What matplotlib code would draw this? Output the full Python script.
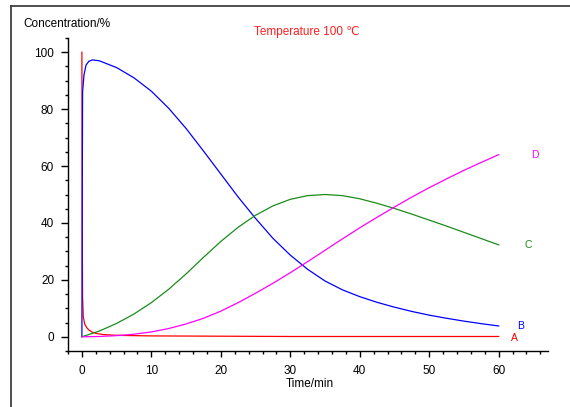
import matplotlib
matplotlib.use("Agg")
import matplotlib.pyplot as plt
from matplotlib.lines import Line2D
from matplotlib.ticker import MultipleLocator

plt.rcParams['font.family'] = ['Liberation Sans', 'DejaVu Sans']

# species A: fast initial decay
tA = [0, 0.02, 0.05, 0.1, 0.2, 0.4, 0.7, 1, 1.5, 2, 3, 5, 10, 20, 30, 40, 50, 60]
concA = [100, 70, 35, 14, 7, 4.5, 3.2, 2.4, 1.6, 1.2, 0.8, 0.5, 0.3, 0.2, 0.1, 0.1, 0.1, 0.1]

# species B: intermediate, fast rise then slow decline
tB = [0, 0.05, 0.1, 0.3, 0.6, 1, 1.5, 2.5, 5, 7.5, 10, 12.5, 15, 17.5, 20, 22.5, 25,
      27.5, 30, 32.5, 35, 37.5, 40, 42.5, 45, 47.5, 50, 52.5, 55, 57.5, 60]
concB = [0, 50, 86, 92, 95.5, 96.8, 97.3, 97, 94.6, 91, 86.3, 80.3, 73.2, 65.3, 57.2, 49.1, 41.6,
         34.6, 28.7, 23.7, 19.6, 16.5, 14.1, 12.1, 10.4, 8.9, 7.6, 6.5, 5.5, 4.6, 3.8]

# species C and D share one time grid
tCD = [0, 2.5, 5, 7.5, 10, 12.5, 15, 17.5, 20, 22.5, 25, 27.5, 30, 32.5, 35, 37.5, 40,
       42.5, 45, 47.5, 50, 52.5, 55, 57.5, 60]
concC = [0, 2.0, 4.7, 8.0, 12.0, 16.7, 22.1, 27.9, 33.5, 38.5, 42.7, 46.0, 48.3, 49.6, 50.0,
         49.6, 48.5, 46.9, 45.1, 43.1, 41.0, 38.9, 36.7, 34.5, 32.3]
concD = [0, 0.1, 0.4, 0.9, 1.7, 2.9, 4.5, 6.5, 9, 12, 15.3, 18.8, 22.5, 26.4, 30.4, 34.4, 38.3,
         42, 45.6, 49.1, 52.4, 55.5, 58.5, 61.3, 64]

series = [
    ("A", tA, concA, "#ff0000", 1.8, -0.6),
    ("B", tB, concB, "#0000ff", 2.7, 0.0),
    ("C", tCD, concC, "#1a8c1a", 3.7, 0.0),
    ("D", tCD, concD, "#ff00ff", 4.7, 0.0),
]

fig = plt.figure(figsize=(5.7, 4.07), dpi=100)
ax = fig.add_axes([68 / 570, 56 / 407, 480 / 570, 313 / 407])

for name, t, c, col, dx, dy in series:
    ax.plot(t, c, color=col, lw=0.9, solid_joinstyle="round")
    ax.text(t[-1] + dx, c[-1] + dy, name, color=col, fontsize=7.5,
            ha="left", va="center")

ax.set_xlim(-2, 67.1)
ax.set_ylim(-5, 105)
ax.xaxis.set_minor_locator(MultipleLocator(2))
ax.yaxis.set_minor_locator(MultipleLocator(5))
ax.set_xticks(range(0, 61, 10))
ax.set_yticks(range(0, 101, 20))

for s in ("top", "right"):
    ax.spines[s].set_visible(False)
for s in ("left", "bottom"):
    ax.spines[s].set_linewidth(1.0)

ax.tick_params(axis="y", which="major", direction="out", length=5, width=1,
               labelsize=8.5, pad=5)
ax.tick_params(axis="x", which="major", direction="out", length=4, width=1,
               labelsize=8.5, pad=6)
ax.tick_params(which="minor", direction="out", length=2.5, width=1)

fig.text(23 / 570, 1 - 24 / 407, "Concentration/%", fontsize=8.5,
         ha="left", va="center")
fig.text(310 / 570, 1 - 384 / 407, "Time/min", fontsize=8.5,
         ha="center", va="center")
fig.text(307 / 570, 1 - 32 / 407, "Temperature 100 \u2103", fontsize=8.5,
         color="#ff2020", ha="center", va="center")

# outer frame (only left and top edges fall inside the canvas)
fig.add_artist(Line2D([11 / 570, 11 / 570], [0, 1 - 5.5 / 407],
                      transform=fig.transFigure, color="#404040", lw=1.3))
fig.add_artist(Line2D([11 / 570, 1], [1 - 5.5 / 407, 1 - 5.5 / 407],
                      transform=fig.transFigure, color="#404040", lw=1.3))

fig.savefig("out.png", dpi=100)
